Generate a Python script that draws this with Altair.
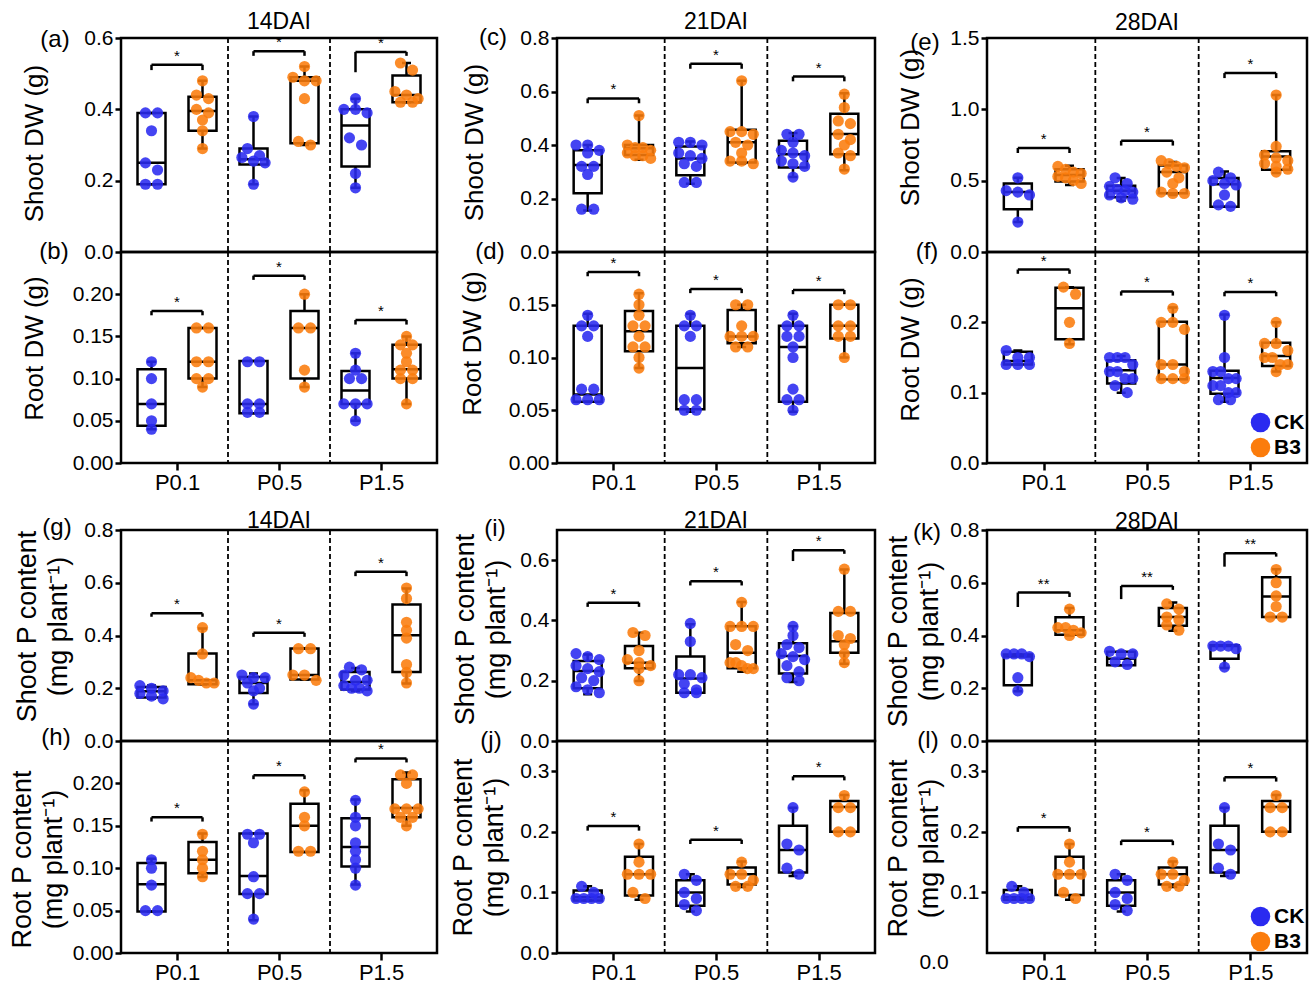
import altair as alt
import pandas as pd

GROUPS = ["P0.1", "P0.5", "P1.5"]
TREATMENTS = ["CK", "B3"]
COLORS = ["#2a2af0", "#fb7c0c"]
FONT = "Liberation Sans"

# Order of the six series in every *_points / *_box list:
# CK P0.1, B3 P0.1, CK P0.5, B3 P0.5, CK P1.5, B3 P1.5
# *_box rows: [min, Q1, median, Q3, max]
# *_bracket rows (P0.1, P0.5, P1.5): [bar height, left tip, right tip]

# (a) Shoot DW (g), 14DAI
a_points = [
    [0.39, 0.39, 0.34, 0.25, 0.23, 0.19, 0.19],
    [0.48, 0.44, 0.43, 0.40, 0.39, 0.37, 0.34, 0.29],
    [0.38, 0.29, 0.27, 0.265, 0.255, 0.25, 0.19],
    [0.52, 0.49, 0.48, 0.48, 0.43, 0.31, 0.30],
    [0.43, 0.40, 0.40, 0.39, 0.32, 0.30, 0.22, 0.18],
    [0.53, 0.51, 0.45, 0.44, 0.43, 0.42, 0.42],
]
a_box = [
    [0.19, 0.19, 0.25, 0.39, 0.39],
    [0.29, 0.34, 0.395, 0.435, 0.48],
    [0.19, 0.245, 0.26, 0.29, 0.38],
    [0.30, 0.305, 0.48, 0.49, 0.52],
    [0.18, 0.24, 0.355, 0.40, 0.43],
    [0.42, 0.42, 0.44, 0.495, 0.53],
]
a_bracket = [[0.525, 0.51, 0.51], [0.563, 0.55, 0.55], [0.561, 0.504, 0.55]]
a_sig = ["*", "*", "*"]

# (b) Root DW (g), 14DAI
b_points = [
    [0.12, 0.10, 0.07, 0.05, 0.04],
    [0.16, 0.16, 0.12, 0.12, 0.10, 0.10, 0.09],
    [0.12, 0.12, 0.07, 0.07, 0.06, 0.06],
    [0.20, 0.16, 0.16, 0.11, 0.09],
    [0.13, 0.11, 0.10, 0.10, 0.07, 0.07, 0.07, 0.05],
    [0.15, 0.14, 0.14, 0.13, 0.12, 0.11, 0.11, 0.10, 0.10, 0.07],
]
b_box = [
    [0.04, 0.044, 0.07, 0.111, 0.12],
    [0.09, 0.10, 0.12, 0.16, 0.16],
    [0.059, 0.059, 0.07, 0.121, 0.121],
    [0.09, 0.10, 0.16, 0.18, 0.20],
    [0.05, 0.07, 0.086, 0.109, 0.13],
    [0.07, 0.10, 0.111, 0.14, 0.15],
]
b_bracket = [[0.180, 0.175, 0.175], [0.222, 0.217, 0.217], [0.1695, 0.164, 0.164]]
b_sig = ["*", "*", "*"]

# (c) Shoot DW (g), 21DAI
c_points = [
    [0.40, 0.40, 0.38, 0.37, 0.32, 0.32, 0.29, 0.16, 0.16],
    [0.51, 0.40, 0.39, 0.39, 0.38, 0.37, 0.36, 0.36, 0.35],
    [0.41, 0.41, 0.40, 0.37, 0.36, 0.35, 0.33, 0.32, 0.26, 0.26],
    [0.64, 0.45, 0.45, 0.44, 0.41, 0.40, 0.37, 0.34, 0.34, 0.33],
    [0.44, 0.44, 0.41, 0.38, 0.37, 0.36, 0.34, 0.33, 0.32, 0.28],
    [0.59, 0.54, 0.49, 0.48, 0.44, 0.42, 0.40, 0.37, 0.36, 0.31],
]
c_box = [
    [0.155, 0.22, 0.325, 0.38, 0.40],
    [0.345, 0.363, 0.388, 0.40, 0.51],
    [0.255, 0.287, 0.35, 0.394, 0.413],
    [0.33, 0.335, 0.41, 0.457, 0.64],
    [0.28, 0.316, 0.365, 0.416, 0.445],
    [0.306, 0.365, 0.441, 0.517, 0.593],
]
c_bracket = [[0.574, 0.556, 0.556], [0.704, 0.685, 0.685], [0.656, 0.638, 0.638]]
c_sig = ["*", "*", "*"]

# (d) Root DW (g), 21DAI
d_points = [
    [0.14, 0.13, 0.13, 0.12, 0.07, 0.07, 0.06, 0.06, 0.06],
    [0.16, 0.15, 0.14, 0.13, 0.13, 0.12, 0.11, 0.11, 0.10, 0.09],
    [0.14, 0.13, 0.13, 0.12, 0.06, 0.06, 0.05, 0.05],
    [0.15, 0.15, 0.13, 0.12, 0.12, 0.12, 0.11, 0.11],
    [0.14, 0.13, 0.13, 0.12, 0.12, 0.11, 0.10, 0.07, 0.06, 0.06, 0.05],
    [0.15, 0.15, 0.13, 0.13, 0.12, 0.12, 0.10],
]
d_box = [
    [0.058, 0.058, 0.065, 0.13, 0.1415],
    [0.09, 0.106, 0.125, 0.144, 0.161],
    [0.0485, 0.051, 0.09, 0.13, 0.1415],
    [0.11, 0.1135, 0.12, 0.145, 0.15],
    [0.0485, 0.058, 0.11, 0.13, 0.1415],
    [0.10, 0.118, 0.13, 0.15, 0.15],
]
d_bracket = [[0.181, 0.177, 0.177], [0.165, 0.161, 0.161], [0.164, 0.160, 0.160]]
d_sig = ["*", "*", "*"]

# (e) Shoot DW (g), 28DAI
e_points = [
    [0.52, 0.43, 0.42, 0.40, 0.21],
    [0.60, 0.58, 0.56, 0.55, 0.53, 0.52, 0.50, 0.48],
    [0.52, 0.48, 0.46, 0.44, 0.43, 0.42, 0.40, 0.38, 0.37],
    [0.64, 0.62, 0.60, 0.59, 0.56, 0.52, 0.48, 0.42, 0.41, 0.41],
    [0.56, 0.52, 0.50, 0.48, 0.47, 0.40, 0.33, 0.32],
    [1.10, 0.74, 0.68, 0.66, 0.64, 0.62, 0.60, 0.58, 0.56],
]
e_box = [
    [0.21, 0.30, 0.42, 0.48, 0.52],
    [0.47, 0.494, 0.54, 0.58, 0.605],
    [0.36, 0.384, 0.43, 0.464, 0.518],
    [0.40, 0.412, 0.56, 0.607, 0.63],
    [0.318, 0.318, 0.475, 0.518, 0.565],
    [0.553, 0.576, 0.67, 0.706, 1.10],
]
e_bracket = [[0.729, 0.694, 0.694], [0.78, 0.746, 0.746], [1.254, 1.219, 1.219]]
e_sig = ["*", "*", "*"]

# (f) Root DW (g), 28DAI
f_points = [
    [0.16, 0.15, 0.15, 0.14, 0.14, 0.14],
    [0.25, 0.24, 0.20, 0.17],
    [0.15, 0.15, 0.15, 0.14, 0.13, 0.13, 0.12, 0.12, 0.11, 0.10],
    [0.22, 0.20, 0.20, 0.19, 0.14, 0.14, 0.13, 0.12, 0.12, 0.12],
    [0.21, 0.15, 0.13, 0.13, 0.12, 0.12, 0.11, 0.11, 0.10, 0.10, 0.09, 0.09],
    [0.20, 0.17, 0.17, 0.16, 0.15, 0.15, 0.14, 0.14, 0.13],
]
f_box = [
    [0.14, 0.14, 0.145, 0.158, 0.16],
    [0.169, 0.176, 0.22, 0.249, 0.25],
    [0.10, 0.113, 0.132, 0.146, 0.152],
    [0.119, 0.119, 0.14, 0.201, 0.221],
    [0.087, 0.0986, 0.121, 0.131, 0.211],
    [0.13, 0.138, 0.152, 0.171, 0.20],
]
f_bracket = [[0.275, 0.269, 0.269], [0.244, 0.238, 0.238], [0.243, 0.237, 0.237]]
f_sig = ["*", "*", "*"]

# (g) Shoot P content, 14DAI
g_points = [
    [0.21, 0.20, 0.19, 0.18, 0.17, 0.16],
    [0.43, 0.33, 0.24, 0.23, 0.22, 0.22],
    [0.25, 0.24, 0.24, 0.22, 0.20, 0.19, 0.14],
    [0.35, 0.35, 0.25, 0.25, 0.23],
    [0.28, 0.27, 0.25, 0.23, 0.23, 0.21, 0.20, 0.20, 0.19],
    [0.58, 0.54, 0.45, 0.42, 0.39, 0.29, 0.26, 0.22],
]
g_box = [
    [0.16, 0.165, 0.189, 0.205, 0.21],
    [0.215, 0.215, 0.23, 0.332, 0.427],
    [0.139, 0.182, 0.22, 0.243, 0.256],
    [0.233, 0.233, 0.25, 0.351, 0.351],
    [0.19, 0.195, 0.224, 0.262, 0.277],
    [0.218, 0.262, 0.401, 0.518, 0.578],
]
g_bracket = [[0.484, 0.471, 0.471], [0.41, 0.395, 0.395], [0.642, 0.625, 0.625]]
g_sig = ["*", "*", "*"]

# (h) Root P content, 14DAI
h_points = [
    [0.11, 0.10, 0.08, 0.05, 0.05],
    [0.14, 0.12, 0.11, 0.10, 0.09],
    [0.14, 0.14, 0.13, 0.09, 0.07, 0.07, 0.04],
    [0.19, 0.16, 0.15, 0.12, 0.12],
    [0.18, 0.16, 0.15, 0.13, 0.12, 0.11, 0.10, 0.08],
    [0.21, 0.21, 0.20, 0.17, 0.17, 0.17, 0.16, 0.16, 0.15],
]
h_box = [
    [0.049, 0.049, 0.081, 0.106, 0.111],
    [0.0895, 0.094, 0.11, 0.131, 0.141],
    [0.0386, 0.0696, 0.0907, 0.141, 0.141],
    [0.119, 0.119, 0.15, 0.176, 0.192],
    [0.0807, 0.102, 0.125, 0.159, 0.181],
    [0.15, 0.16, 0.171, 0.205, 0.213],
]
h_bracket = [[0.16, 0.155, 0.155], [0.2095, 0.205, 0.205], [0.2294, 0.2247, 0.2247]]
h_sig = ["*", "*", "*"]

# (i) Shoot P content, 21DAI
i_points = [
    [0.29, 0.28, 0.27, 0.25, 0.24, 0.23, 0.21, 0.20, 0.18, 0.17, 0.16],
    [0.36, 0.35, 0.30, 0.27, 0.26, 0.25, 0.24, 0.20],
    [0.39, 0.33, 0.22, 0.22, 0.21, 0.19, 0.17, 0.16, 0.16],
    [0.46, 0.38, 0.38, 0.38, 0.32, 0.30, 0.26, 0.26, 0.25, 0.24, 0.24],
    [0.38, 0.35, 0.32, 0.31, 0.29, 0.28, 0.27, 0.25, 0.23, 0.21, 0.20],
    [0.57, 0.43, 0.43, 0.35, 0.34, 0.32, 0.29, 0.26],
]
i_box = [
    [0.155, 0.175, 0.232, 0.265, 0.287],
    [0.199, 0.241, 0.26, 0.315, 0.359],
    [0.16, 0.16, 0.207, 0.28, 0.387],
    [0.23, 0.241, 0.293, 0.381, 0.461],
    [0.196, 0.224, 0.282, 0.324, 0.381],
    [0.256, 0.293, 0.331, 0.425, 0.569],
]
i_bracket = [[0.459, 0.445, 0.445], [0.530, 0.516, 0.516], [0.633, 0.597, 0.621]]
i_sig = ["*", "*", "*"]

# (j) Root P content, 21DAI
j_points = [
    [0.11, 0.10, 0.09, 0.09, 0.09, 0.09],
    [0.18, 0.15, 0.13, 0.13, 0.13, 0.10, 0.09],
    [0.13, 0.12, 0.10, 0.09, 0.08, 0.07],
    [0.15, 0.13, 0.13, 0.12, 0.11, 0.11],
    [0.24, 0.18, 0.17, 0.14, 0.13],
    [0.26, 0.24, 0.24, 0.20, 0.20],
]
j_box = [
    [0.0866, 0.0866, 0.092, 0.103, 0.11],
    [0.088, 0.095, 0.13, 0.159, 0.18],
    [0.0687, 0.078, 0.10, 0.12, 0.13],
    [0.109, 0.113, 0.13, 0.141, 0.151],
    [0.127, 0.133, 0.17, 0.21, 0.24],
    [0.20, 0.20, 0.241, 0.251, 0.261],
]
j_bracket = [[0.2095, 0.202, 0.202], [0.187, 0.18, 0.18], [0.2916, 0.285, 0.285]]
j_sig = ["*", "*", "*"]

# (k) Shoot P content, 28DAI
k_points = [
    [0.33, 0.33, 0.33, 0.32, 0.24, 0.19],
    [0.50, 0.43, 0.43, 0.42, 0.41, 0.40],
    [0.34, 0.33, 0.33, 0.30, 0.29],
    [0.52, 0.50, 0.47, 0.46, 0.44, 0.42],
    [0.36, 0.36, 0.36, 0.35, 0.28],
    [0.65, 0.60, 0.55, 0.51, 0.47, 0.47],
]
k_box = [
    [0.189, 0.2117, 0.32, 0.3276, 0.3276],
    [0.40, 0.403, 0.42, 0.469, 0.504],
    [0.287, 0.287, 0.312, 0.338, 0.338],
    [0.418, 0.437, 0.47, 0.504, 0.525],
    [0.277, 0.312, 0.36, 0.363, 0.363],
    [0.47, 0.47, 0.548, 0.621, 0.651],
]
k_bracket = [[0.563, 0.508, 0.546], [0.588, 0.538, 0.573], [0.712, 0.661, 0.699]]
k_sig = ["**", "**", "**"]

# (l) Root P content, 28DAI
l_points = [
    [0.11, 0.10, 0.09, 0.09, 0.09, 0.09],
    [0.18, 0.15, 0.13, 0.13, 0.13, 0.10, 0.09],
    [0.13, 0.12, 0.10, 0.09, 0.08, 0.07],
    [0.15, 0.13, 0.13, 0.12, 0.11, 0.11],
    [0.24, 0.18, 0.17, 0.14, 0.13],
    [0.26, 0.24, 0.24, 0.20, 0.20],
]
l_box = [
    [0.088, 0.088, 0.092, 0.104, 0.11],
    [0.088, 0.0956, 0.13, 0.159, 0.18],
    [0.0687, 0.078, 0.10, 0.12, 0.13],
    [0.109, 0.113, 0.13, 0.141, 0.151],
    [0.127, 0.133, 0.17, 0.21, 0.24],
    [0.20, 0.20, 0.241, 0.251, 0.261],
]
l_bracket = [[0.2075, 0.2, 0.2], [0.1854, 0.178, 0.178], [0.29, 0.283, 0.283]]
l_sig = ["*", "*", "*"]

SHOOT_DW = ["Shoot DW (g)"]
ROOT_DW = ["Root DW (g)"]
SHOOT_P = ["Shoot P content", "(mg plant\u207b\u00b9)"]
ROOT_P = ["Root P content", "(mg plant\u207b\u00b9)"]
HEADINGS = ["14DAI", "21DAI", "28DAI"]

# key: points, box, bracket, significance, y max, y tick values, tick format, y title
PANELS = {
    "a": (a_points, a_box, a_bracket, a_sig, 0.6, [0, 0.2, 0.4, 0.6], ".1f", SHOOT_DW),
    "b": (b_points, b_box, b_bracket, b_sig, 0.25, [0, 0.05, 0.1, 0.15, 0.2], ".2f", ROOT_DW),
    "c": (c_points, c_box, c_bracket, c_sig, 0.8, [0, 0.2, 0.4, 0.6, 0.8], ".1f", SHOOT_DW),
    "d": (d_points, d_box, d_bracket, d_sig, 0.2, [0, 0.05, 0.1, 0.15], ".2f", ROOT_DW),
    "e": (e_points, e_box, e_bracket, e_sig, 1.5, [0, 0.5, 1.0, 1.5], ".1f", SHOOT_DW),
    "f": (f_points, f_box, f_bracket, f_sig, 0.3, [0, 0.1, 0.2], ".1f", ROOT_DW),
    "g": (g_points, g_box, g_bracket, g_sig, 0.8, [0, 0.2, 0.4, 0.6, 0.8], ".1f", SHOOT_P),
    "h": (h_points, h_box, h_bracket, h_sig, 0.25, [0, 0.05, 0.1, 0.15, 0.2], ".2f", ROOT_P),
    "i": (i_points, i_box, i_bracket, i_sig, 0.7, [0, 0.2, 0.4, 0.6], ".1f", SHOOT_P),
    "j": (j_points, j_box, j_bracket, j_sig, 0.35, [0, 0.1, 0.2, 0.3], ".1f", ROOT_P),
    "k": (k_points, k_box, k_bracket, k_sig, 0.8, [0, 0.2, 0.4, 0.6, 0.8], ".1f", SHOOT_P),
    "l": (l_points, l_box, l_bracket, l_sig, 0.35, [0.1, 0.2, 0.3], ".1f", ROOT_P),
}

# layout (pixels): y-title (first line) centre x, y ; panel-letter centre x, y
LAYOUT = {
    "a": (-87, 105, -66, 2), "b": (-87, 96, -67, 0),
    "c": (-83, 104, -64, 0), "d": (-85, 91, -67, 0),
    "e": (-77, 89, -62, 5), "f": (-77, 97, -60, 0),
    "g": (-94, 96, -64, -2), "h": (-99, 118, -65, -3),
    "i": (-92, 99, -62, -1), "j": (-94, 106, -66, 0),
    "k": (-89, 101, -60, 3), "l": (-89, 107, -59, 0),
}
SLOT = [0.25, 0.75]
COL_W = [316, 120, 318, 112, 320]
ROW_H = [214, 211, 67, 211, 212]
DOT = 12.5
SPREAD = 24.0


def swarm(vals, ymax, height, group_px):
    """Column-scatter placement: dots at nearly the same height share a row."""
    order = sorted(range(len(vals)), key=lambda i: -vals[i])
    rows = []
    for i in order:
        py = vals[i] / ymax * height
        if rows and abs(rows[-1][0] - py) < DOT * 0.6:
            rows[-1][1].append(i)
        else:
            rows.append([py, [i]])
    off = [0.0] * len(vals)
    for _, idx in rows:
        n = len(idx)
        step = DOT if n < 2 else min(DOT, SPREAD / (n - 1))
        for k, i in enumerate(idx):
            off[i] = (k - (n - 1) / 2.0) * step / group_px
    return off


def text_layer(txt, px, py, size, weight="normal"):
    return alt.Chart(pd.DataFrame({"t": [txt]})).mark_text(
        fontSize=size, fontWeight=weight, align="center", baseline="middle", color="black"
    ).encode(x=alt.value(px), y=alt.value(py), text="t:N")


def panel(key, width, height, bottom, heading=None, heading_dy=-16, legend_y=None, stray=False):
    pts, box, brk, sig, ymax, ticks, fmt, title = PANELS[key]
    tx, ty, lx, ly = LAYOUT[key]
    gpx = width / 3.0

    prow = []
    for s, vals in enumerate(pts):
        g, t = divmod(s, 2)
        offs = swarm(vals, ymax, height, gpx)
        for v, o in zip(vals, offs):
            prow.append({"pos": g + SLOT[t] + o, "value": v, "treat": TREATMENTS[t]})
    dfp = pd.DataFrame(prow)

    brow = []
    for s, b in enumerate(box):
        g, t = divmod(s, 2)
        brow.append({"pos": g + SLOT[t], "lo": b[0], "q1": b[1], "med": b[2], "q3": b[3], "hi": b[4]})
    dfb = pd.DataFrame(brow)

    seg = []
    for g, (top, lt, rt) in enumerate(brk):
        l, r = g + SLOT[0], g + SLOT[1]
        seg += [
            {"x1": l, "x2": r, "y1": top, "y2": top},
            {"x1": l, "x2": l, "y1": lt, "y2": top},
            {"x1": r, "x2": r, "y1": rt, "y2": top},
        ]
    dfs = pd.DataFrame(seg)
    dft = pd.DataFrame({"pos": [g + 0.5 for g in range(3)], "value": [b[0] for b in brk], "sig": sig})
    dfsep = pd.DataFrame({"pos": [1, 2]})

    xs = alt.Scale(domain=[0, 3], nice=False, zero=False)
    ys = alt.Scale(domain=[0, ymax], nice=False)
    if bottom:
        expr = "[" + ",".join("'%s'" % g for g in GROUPS) + "][floor(datum.value)]"
        xaxis = alt.Axis(values=[0.5, 1.5, 2.5], labelExpr=expr, title=None, labelFontSize=22,
                         labelPadding=2, tickSize=7, tickWidth=2.5, domain=False, grid=False,
                         labelFlush=False, labelColor="black", tickColor="black")
    else:
        xaxis = None
    fs = 26 if len(title) == 1 else 27
    yaxis = alt.Axis(values=ticks, format=fmt, title=title, titleX=tx, titleY=ty, titleAngle=270,
                     titleAlign="center", titleBaseline="middle", titleFontSize=fs,
                     titleFontWeight="normal", titleLineHeight=31, labelFontSize=21,
                     labelPadding=2, tickSize=6, tickWidth=2.5, domain=False, grid=False,
                     labelColor="black", tickColor="black", titleColor="black")

    def X(f):
        return alt.X(f + ":Q", scale=xs, axis=xaxis)

    def Y(f):
        return alt.Y(f + ":Q", scale=ys, axis=yaxis)

    sep = alt.Chart(dfsep).mark_rule(color="black", strokeWidth=1.8, strokeDash=[5, 3]).encode(x=X("pos"))
    whisk = alt.Chart(dfb).mark_rule(color="black", strokeWidth=2.5).encode(x=X("pos"), y=Y("lo"), y2="hi")
    boxes = alt.Chart(dfb).mark_bar(size=28, fill="white", stroke="black", strokeWidth=2.5).encode(
        x=X("pos"), y=Y("q1"), y2="q3")
    med = alt.Chart(dfb).mark_bar(size=28, fill="white", stroke="black", strokeWidth=2.5).encode(
        x=X("pos"), y=Y("med"), y2="med")
    cap_hi = alt.Chart(dfb).mark_bar(size=9, fill="white", stroke="black", strokeWidth=2.5).encode(
        x=X("pos"), y=Y("hi"), y2="hi")
    cap_lo = alt.Chart(dfb).mark_bar(size=9, fill="white", stroke="black", strokeWidth=2.5).encode(
        x=X("pos"), y=Y("lo"), y2="lo")

    if legend_y is not None:
        leg = alt.Legend(orient="none", legendX=263, legendY=legend_y, title=None, symbolType="circle",
                         symbolSize=380, symbolOpacity=1, symbolStrokeWidth=0, labelFontSize=21,
                         labelFontWeight="bold", labelFont=FONT, labelColor="black", rowPadding=3,
                         padding=0, labelOffset=3)
    else:
        leg = None
    dots = alt.Chart(dfp).mark_circle(size=125, opacity=0.88).encode(
        x=X("pos"), y=Y("value"),
        color=alt.Color("treat:N", scale=alt.Scale(domain=TREATMENTS, range=COLORS), legend=leg))
    brackets = alt.Chart(dfs).mark_rule(color="black", strokeWidth=2.5).encode(
        x=X("x1"), x2="x2", y=Y("y1"), y2="y2")
    stars = alt.Chart(dft).mark_text(fontSize=15, dy=-9, baseline="middle", color="black").encode(
        x=X("pos"), y=Y("value"), text="sig:N")

    layers = [sep, whisk, boxes, med, cap_hi, cap_lo, dots, brackets, stars,
              text_layer("(%s)" % key, lx, ly, 24)]
    if heading is not None:
        layers.append(text_layer(heading, width / 2.0, heading_dy, 23))
    if stray:
        layers.append(text_layer("0.0", -53, 222, 21))
    return alt.layer(*layers).properties(
        width=width, height=height, view=alt.ViewBackground(stroke="black", strokeWidth=2.5))


def spacer(w, h):
    return alt.layer(
        alt.Chart(pd.DataFrame({"s": [""]})).mark_text().encode(
            text="s:N", x=alt.value(0), y=alt.value(0))
    ).properties(width=w, height=h, view=alt.ViewBackground(stroke="transparent"))


cells = []
# row 0
cells += [panel("a", COL_W[0], ROW_H[0], False, HEADINGS[0], -16), spacer(COL_W[1], ROW_H[0]),
          panel("c", COL_W[2], ROW_H[0], False, HEADINGS[1], -16), spacer(COL_W[3], ROW_H[0]),
          panel("e", COL_W[4], ROW_H[0], False, HEADINGS[2], -15)]
# row 1
cells += [panel("b", COL_W[0], ROW_H[1], True), spacer(COL_W[1], ROW_H[1]),
          panel("d", COL_W[2], ROW_H[1], True), spacer(COL_W[3], ROW_H[1]),
          panel("f", COL_W[4], ROW_H[1], True, legend_y=160)]
# row 2 (gap)
cells += [spacer(w, ROW_H[2]) for w in COL_W]
# row 3
cells += [panel("g", COL_W[0], ROW_H[3], False, HEADINGS[0], -9), spacer(COL_W[1], ROW_H[3]),
          panel("i", COL_W[2], ROW_H[3], False, HEADINGS[1], -9), spacer(COL_W[3], ROW_H[3]),
          panel("k", COL_W[4], ROW_H[3], False, HEADINGS[2], -8)]
# row 4
cells += [panel("h", COL_W[0], ROW_H[4], True), spacer(COL_W[1], ROW_H[4]),
          panel("j", COL_W[2], ROW_H[4], True), spacer(COL_W[3], ROW_H[4]),
          panel("l", COL_W[4], ROW_H[4], True, legend_y=165, stray=True)]

grid = alt.concat(*cells, columns=5, spacing=0, bounds="flush", align="each")

chart = grid.resolve_scale(color="independent").properties(
    autosize=alt.AutoSizeParams(type="none"),
    padding={"left": 121, "top": 38, "right": 1312 - 121, "bottom": 984 - 38},
    background="white",
).configure(font=FONT).configure_view(stroke="transparent")

chart.save("out.html", embed_options={"renderer": "svg", "actions": False})
